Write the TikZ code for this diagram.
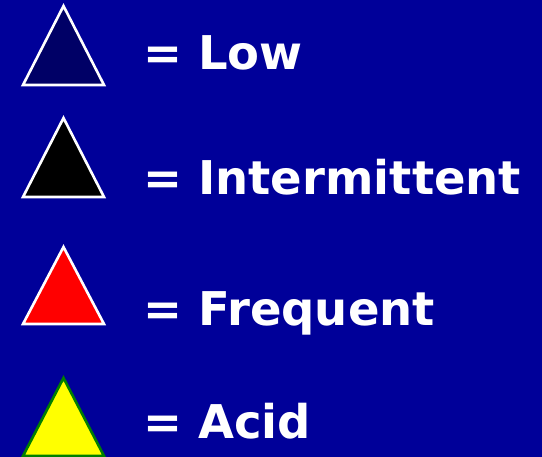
\documentclass[tikz,border=0pt]{standalone}
\usepackage{fontspec}
\setsansfont{DejaVu Sans}
\usetikzlibrary{positioning}
\definecolor{slideblue}{RGB}{0,0,153}
\definecolor{lownavy}{RGB}{0,0,102}
\definecolor{acidyellow}{RGB}{255,255,0}
\definecolor{acidgreen}{RGB}{0,128,0}
\definecolor{freqred}{RGB}{255,0,0}

\begin{document}
\begin{tikzpicture}[
    x=1bp, y=-1bp,
    font=\sffamily\bfseries\fontsize{46.5bp}{50bp}\selectfont,
    tri/.style  = {draw=white, line width=2.6bp, line join=miter},
    acid/.style = {draw=acidgreen, fill=acidyellow, line width=2.6bp},
    key/.style  = {text=white, anchor=base west, inner sep=0pt},
]
\useasboundingbox (0,0) rectangle (542,457);
\fill[slideblue] (0,0) rectangle (542,457);

% ---- triangles (left column) ------------------------------------------------
\draw[tri, fill=lownavy] (63.5,6) -- (104,85) -- (23,85) -- cycle;
\draw[tri, fill=black]   (63.5,118) -- (104,197) -- (23,197) -- cycle;
\draw[tri, fill=freqred] (63.5,247) -- (104,324) -- (23,324) -- cycle;
\draw[acid]              (63.5,378) -- (104,456) -- (23,456) -- cycle;

% ---- labels (right column) --------------------------------------------------
\node[key] (low)  at (143,70)  {= Low};
\node[key] (inter) at (143,195) {= Intermittent};
\node[key] (freq) at (143,325) {= Frequent};
\node[key] (acidl) at (143,438) {= Acid};
\end{tikzpicture}
\end{document}
